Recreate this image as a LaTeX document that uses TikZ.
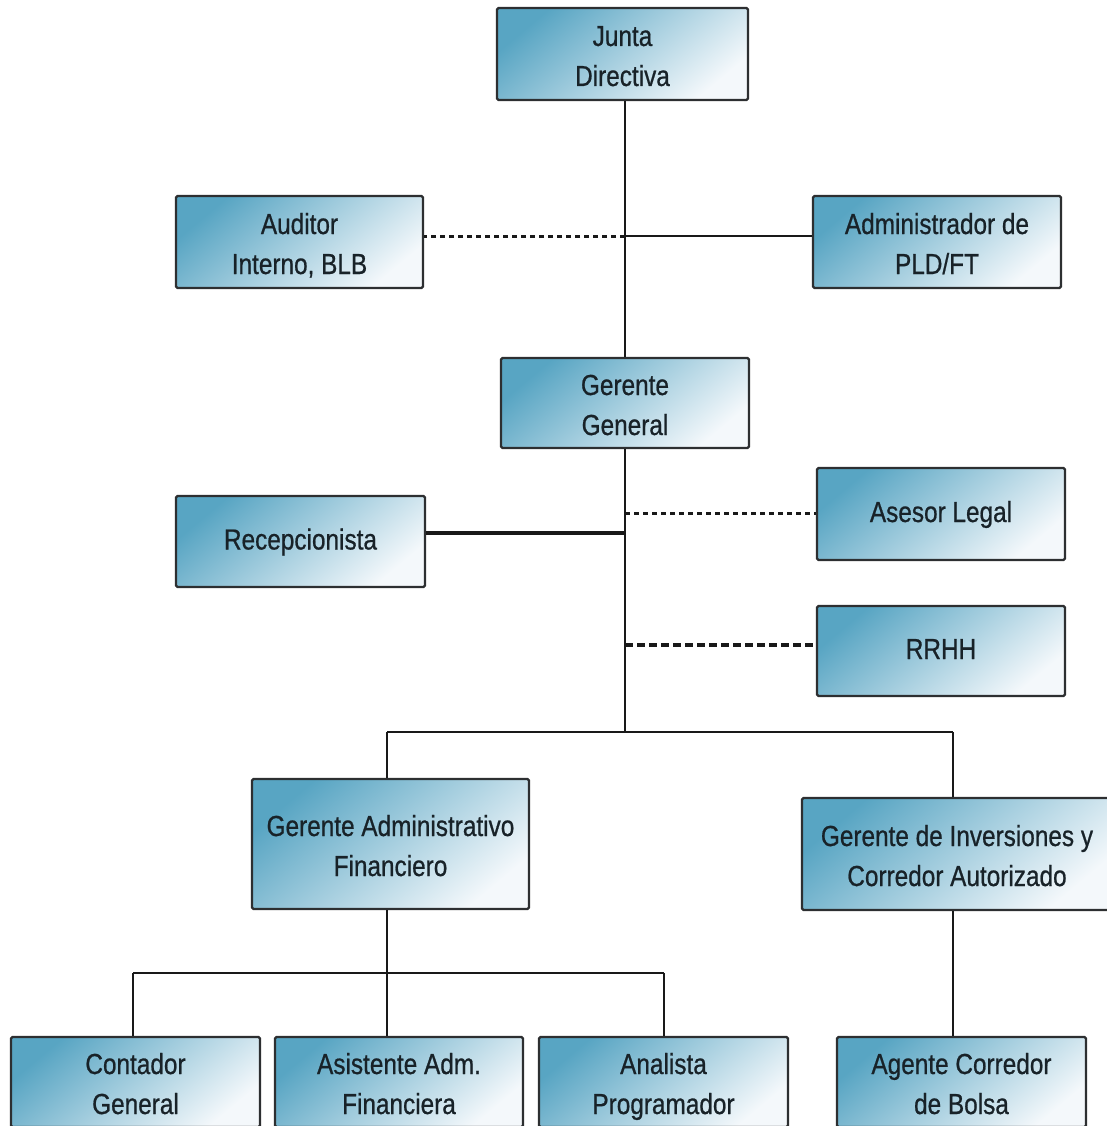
\documentclass[tikz,border=0pt]{standalone}
\usepackage{fontspec}
\setmainfont{Liberation Sans}[FakeStretch=0.84,FakeBold=0.7]
\newcommand\lnstrut{\rule[-0.2\baselineskip]{0pt}{\baselineskip}}
\definecolor{boxblue}{RGB}{88,165,195}
\definecolor{boxpale}{RGB}{244,248,251}
\definecolor{boxline}{RGB}{45,47,49}
\definecolor{txtcol}{RGB}{24,34,40}
\tikzset{
  orgbox/.style={draw=boxline, line width=2.2pt, rounded corners=1.5pt,
    top color=boxblue, bottom color=boxpale, shading angle=40,
    align=center, text=txtcol, inner sep=0pt,
    font=\fontsize{29}{40}\selectfont},
  link/.style={line width=2.4pt, draw=black!90},
  thicklink/.style={line width=3.4pt, draw=black!90},
  dotlink/.style={line width=3pt, draw=black!90, dash pattern=on 5pt off 4pt},
  dashlink/.style={line width=3.4pt, draw=black!90, dash pattern=on 8pt off 4pt}
}
\begin{document}
\begin{tikzpicture}[x=1pt,y=-1pt]
\useasboundingbox (0,0) rectangle (1106,1126);

\node[orgbox, minimum width=251pt, minimum height=92pt] (jd) at (622.5,54) {\lnstrut Junta\\\lnstrut Directiva};
\node[orgbox, minimum width=247pt, minimum height=92pt] (aud) at (299.5,242) {\lnstrut Auditor\\\lnstrut Interno, BLB};
\node[orgbox, minimum width=248pt, minimum height=92pt] (pld) at (937,242) {\lnstrut Administrador de\\\lnstrut PLD/FT};
\node[orgbox, minimum width=248pt, minimum height=90pt] (gg) at (625,403) {\lnstrut Gerente\\\lnstrut General};
\node[orgbox, minimum width=249pt, minimum height=91pt] (rec) at (300.5,541.5) {\strut Recepcionista};
\node[orgbox, minimum width=248pt, minimum height=92pt] (ase) at (941,514) {\strut Asesor Legal};
\node[orgbox, minimum width=248pt, minimum height=90pt] (rrhh) at (941,651) {\strut RRHH};
\node[orgbox, minimum width=277pt, minimum height=130pt] (gaf) at (390.5,844) {\lnstrut Gerente Administrativo\\\lnstrut Financiero};
\node[orgbox, minimum width=310pt, minimum height=112pt] (gic) at (957,854) {\lnstrut Gerente de Inversiones y\\\lnstrut Corredor Autorizado};
\node[orgbox, minimum width=249pt, minimum height=90pt] (con) at (135.5,1082) {\lnstrut Contador\\\lnstrut General};
\node[orgbox, minimum width=248pt, minimum height=90pt] (asi) at (399,1082) {\lnstrut Asistente Adm.\\\lnstrut Financiera};
\node[orgbox, minimum width=249pt, minimum height=90pt] (ana) at (663.5,1082) {\lnstrut Analista\\\lnstrut Programador};
\node[orgbox, minimum width=249pt, minimum height=90pt] (age) at (961.5,1082) {\lnstrut Agente Corredor\\\lnstrut de Bolsa};

% trunk
\coordinate (a1) at (625,236);
\coordinate (c1) at (625,513);
\coordinate (c2) at (625,533);
\coordinate (c3) at (625,645);
\coordinate (b0) at (625,732);
\coordinate (b1) at (387,732);
\coordinate (b2) at (953,732);
\coordinate (d0) at (387,973);
\coordinate (d1) at (133,973);
\coordinate (d2) at (664,973);

\draw[link] (gg.north |- jd.south) -- (gg.north);
\draw[dotlink] (a1) -- (a1 -| aud.east);
\draw[link] (a1) -- (a1 -| pld.west);
\draw[link] (gg.south) -- (b0);
\draw[dotlink] (c1) -- (c1 -| ase.west);
\draw[thicklink] (c2) -- (c2 -| rec.east);
\draw[dashlink] (c3) -- (c3 -| rrhh.west);

\draw[link] (b1) -- (b2);
\draw[link] (b1) -- (b1 |- gaf.north);
\draw[link] (b2) -- (b2 |- gic.north);
\draw[link] (gic.south -| b2) -- (b2 |- age.north);

\draw[link] (gaf.south -| d0) -- (d0);
\draw[link] (d1) -- (d2);
\draw[link] (d1) -- (d1 |- con.north);
\draw[link] (d0) -- (d0 |- asi.north);
\draw[link] (d2) -- (d2 |- ana.north);
\end{tikzpicture}
\end{document}
